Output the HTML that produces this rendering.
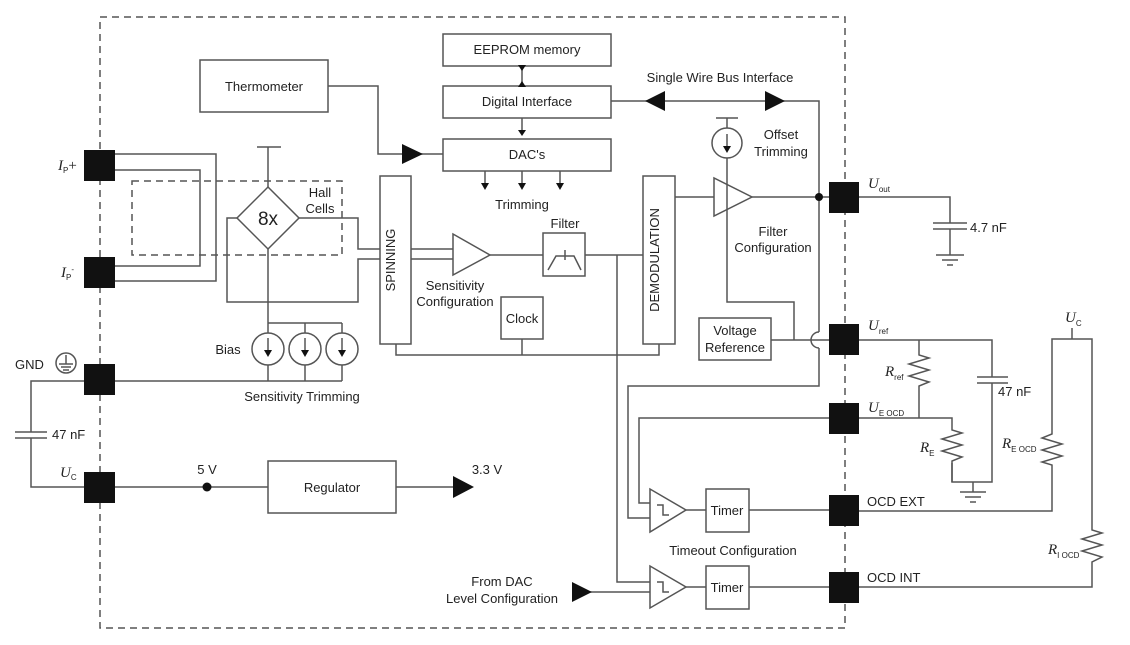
<!DOCTYPE html>
<html><head><meta charset="utf-8"><style>
html,body{margin:0;padding:0;background:#fff;}
svg{display:block;font-family:"Liberation Sans",Arial,sans-serif;}
text{font-size:13px;fill:#222;}
.i{font-family:"Liberation Serif",serif;font-style:italic;font-size:15px;}
.s{font-size:8px;font-style:normal;font-family:"Liberation Sans",sans-serif;}
</style></head><body>
<svg width="1130" height="645" viewBox="0 0 1130 645" xmlns="http://www.w3.org/2000/svg">
<g fill="none" stroke="#555" stroke-width="1.5">
<rect x="100" y="17" width="745" height="611" stroke-dasharray="7,5"/>
<rect x="132" y="181" width="210" height="74" stroke-dasharray="7,5"/>
<rect x="443" y="34" width="168" height="32"/>
<rect x="443" y="86" width="168" height="32"/>
<rect x="443" y="139" width="168" height="32"/>
<rect x="200" y="60" width="128" height="52"/>
<rect x="380" y="176" width="31" height="168"/>
<rect x="643" y="176" width="32" height="168"/>
<rect x="543" y="233" width="42" height="43"/>
<rect x="501" y="297" width="42" height="42"/>
<rect x="699" y="318" width="72" height="42"/>
<rect x="268" y="461" width="128" height="52"/>
<rect x="706" y="489" width="43" height="43"/>
<rect x="706" y="566" width="43" height="43"/>
<line x1="522" y1="66" x2="522" y2="86"/>
<line x1="522" y1="118" x2="522" y2="134"/>
<polyline points="328,86 378,86 378,154 443,154"/>
<line x1="485" y1="171" x2="485" y2="186"/><line x1="522" y1="171" x2="522" y2="186"/><line x1="560" y1="171" x2="560" y2="186"/>
<polyline points="611,101 819,101 819,332"/>
<path d="M819,332 a8,8 0 0 0 0,16"/>
<polyline points="819,348 819,386 628,386 628,518 650,518"/>
<polyline points="115,154 216,154 216,281 115,281"/>
<polyline points="115,170 200,170 200,266 115,266"/>
<polygon points="268,187 299,218 268,249 237,218"/>
<line x1="268" y1="187" x2="268" y2="147"/><line x1="257" y1="147" x2="281" y2="147"/>
<polyline points="237,218 227,218 227,302 358,302 358,259 380,259"/>
<polyline points="299,218 358,218 358,249 380,249"/>
<line x1="268" y1="249" x2="268" y2="323"/>
<polyline points="268,323 342,323"/>
<circle cx="268" cy="349" r="16"/><circle cx="305" cy="349" r="16"/><circle cx="342" cy="349" r="16"/>
<line x1="268" y1="323" x2="268" y2="333"/><line x1="305" y1="323" x2="305" y2="333"/><line x1="342" y1="323" x2="342" y2="333"/>
<line x1="268" y1="365" x2="268" y2="381"/><line x1="305" y1="365" x2="305" y2="381"/><line x1="342" y1="365" x2="342" y2="381"/>
<line x1="268" y1="338" x2="268" y2="352"/><line x1="305" y1="338" x2="305" y2="352"/><line x1="342" y1="338" x2="342" y2="352"/>
<polyline points="115,381 342,381"/>
<polyline points="85,381 31,381 31,432"/><polyline points="31,438 31,487 85,487"/>
<line x1="15" y1="432" x2="47" y2="432"/><line x1="15" y1="438" x2="47" y2="438"/>
<circle cx="66" cy="363" r="10"/>
<line x1="66" y1="355" x2="66" y2="364"/><line x1="59" y1="364" x2="73" y2="364"/><line x1="61" y1="367" x2="71" y2="367"/><line x1="63" y1="370" x2="69" y2="370"/>
<line x1="115" y1="487" x2="268" y2="487"/>
<line x1="396" y1="487" x2="455" y2="487"/>
<line x1="411" y1="249" x2="453" y2="249"/><line x1="411" y1="259" x2="453" y2="259"/>
<polygon points="453,234 453,275 490,255"/>
<line x1="490" y1="255" x2="543" y2="255"/>
<line x1="585" y1="255" x2="643" y2="255"/>
<path d="M548,270 l8,-14 h18 l7,14 M565,250 v10"/>
<polyline points="396,344 396,355 659,355 659,344"/>
<line x1="522" y1="339" x2="522" y2="355"/>
<polyline points="617,255 617,582 650,582"/>
<line x1="675" y1="197" x2="714" y2="197"/>
<polygon points="714,178 714,216 752,197"/>
<line x1="752" y1="197" x2="831" y2="197"/>
<circle cx="727" cy="143" r="15"/>
<line x1="716" y1="118" x2="738" y2="118"/><line x1="727" y1="118" x2="727" y2="128"/>
<line x1="727" y1="134" x2="727" y2="148"/>
<polyline points="727,158 727,302 794,302 794,340"/>
<line x1="771" y1="340" x2="831" y2="340"/>
<polyline points="859,197 950,197 950,223"/>
<line x1="933" y1="223" x2="967" y2="223"/><line x1="933" y1="229" x2="967" y2="229"/>
<line x1="950" y1="229" x2="950" y2="255"/>
<line x1="936" y1="255" x2="964" y2="255"/><line x1="942" y1="260" x2="958" y2="260"/><line x1="947" y1="265" x2="953" y2="265"/>
<polyline points="859,340 992,340 992,377"/>
<line x1="977" y1="377" x2="1008" y2="377"/><line x1="977" y1="383" x2="1008" y2="383"/>
<polyline points="992,383 992,482 952,482 952,463"/>
<polyline points="919,340 919,355 929,358 909,364 929,370 909,376 929,382 919,386 919,418"/>
<polyline points="859,418 952,418 952,430 962,433 942,439 962,445 942,451 962,457 952,461 952,482"/>
<line x1="973" y1="482" x2="973" y2="492"/>
<line x1="960" y1="492" x2="986" y2="492"/><line x1="965" y1="497" x2="981" y2="497"/><line x1="970" y1="502" x2="976" y2="502"/>
<polyline points="831,418 639,418 639,503 650,503"/>
<polygon points="650,489 650,532 686,510"/>
<polygon points="650,566 650,608 686,587"/>
<path d="M657,505 h6 v10 h6 M657,582 h6 v10 h6"/>
<line x1="686" y1="510" x2="706" y2="510"/><line x1="749" y1="510" x2="831" y2="510"/>
<line x1="686" y1="587" x2="706" y2="587"/><line x1="749" y1="587" x2="831" y2="587"/>
<line x1="585" y1="592" x2="650" y2="592"/>
<polyline points="859,511 1052,511 1052,465 1042,462 1062,456 1042,450 1062,444 1042,438 1052,434 1052,339 1092,339 1092,530 1102,533 1082,539 1102,545 1082,551 1102,557 1092,562 1092,587 859,587"/>
<line x1="1072" y1="339" x2="1072" y2="328"/>
</g>
<g fill="#111">
<rect x="84" y="150" width="31" height="31"/><rect x="84" y="257" width="31" height="31"/>
<rect x="84" y="364" width="31" height="31"/><rect x="84" y="472" width="31" height="31"/>
<rect x="829" y="182" width="30" height="31"/><rect x="829" y="324" width="30" height="31"/>
<rect x="829" y="403" width="30" height="31"/><rect x="829" y="495" width="30" height="31"/>
<rect x="829" y="572" width="30" height="31"/>
<circle cx="819" cy="197" r="4"/><circle cx="207" cy="487" r="4.5"/>
<polygon points="402,144 402,164 423,154"/>
<polygon points="645,101 665,91 665,111"/><polygon points="785,101 765,91 765,111"/>
<polygon points="453,476 453,498 474,487"/>
<polygon points="572,582 572,602 592,592"/>
<polygon points="481,183 489,183 485,190"/><polygon points="518,183 526,183 522,190"/><polygon points="556,183 564,183 560,190"/>
<polygon points="518,65 526,65 522,71"/><polygon points="518,87 526,87 522,81"/><polygon points="518,130 526,130 522,136"/>
<polygon points="723,146 731,146 727,153"/>
<polygon points="264,350 272,350 268,357"/><polygon points="301,350 309,350 305,357"/><polygon points="338,350 346,350 342,357"/>
</g>
<g text-anchor="middle">
<text x="527" y="54">EEPROM memory</text>
<text x="527" y="106">Digital Interface</text>
<text x="527" y="159">DAC's</text>
<text x="264" y="91">Thermometer</text>
<text x="720" y="82">Single Wire Bus Interface</text>
<text x="522" y="209">Trimming</text>
<text x="565" y="228">Filter</text>
<text x="522" y="323">Clock</text>
<text x="455" y="290">Sensitivity</text>
<text x="455" y="306">Configuration</text>
<text x="781" y="139">Offset</text>
<text x="781" y="156">Trimming</text>
<text x="773" y="236">Filter</text>
<text x="773" y="252">Configuration</text>
<text x="735" y="335">Voltage</text>
<text x="735" y="352">Reference</text>
<text x="727" y="515">Timer</text>
<text x="727" y="592">Timer</text>
<text x="733" y="555">Timeout Configuration</text>
<text x="332" y="492">Regulator</text>
<text x="502" y="586">From DAC</text>
<text x="502" y="603">Level Configuration</text>
<text x="302" y="401">Sensitivity Trimming</text>
<text x="268" y="225" style="font-size:19px">8x</text>
<text x="320" y="197">Hall</text>
<text x="320" y="213">Cells</text>
<text x="228" y="354">Bias</text>
<text x="207" y="474">5 V</text>
<text x="487" y="474">3.3 V</text>
<text x="395" y="260" transform="rotate(-90 395 260)">SPINNING</text>
<text x="659" y="260" transform="rotate(-90 659 260)">DEMODULATION</text>
</g>
<text x="15" y="369">GND</text>
<text x="52" y="439">47 nF</text>
<text x="970" y="232">4.7 nF</text>
<text x="998" y="396">47 nF</text>
<text x="867" y="506">OCD EXT</text>
<text x="867" y="582">OCD INT</text>
<text class="i" x="58" y="170">I<tspan class="s" dy="3">P</tspan><tspan dy="-3" style="font-style:normal">+</tspan></text>
<text class="i" x="61" y="277">I<tspan class="s" dy="3">P</tspan><tspan dy="-8" class="s">-</tspan></text>
<text class="i" x="60" y="477">U<tspan class="s" dy="3">C</tspan></text>
<text class="i" x="868" y="188">U<tspan class="s" dy="4">out</tspan></text>
<text class="i" x="868" y="330">U<tspan class="s" dy="4">ref</tspan></text>
<text class="i" x="868" y="412">U<tspan class="s" dy="4">E OCD</tspan></text>
<text class="i" x="885" y="376">R<tspan class="s" dy="4">ref</tspan></text>
<text class="i" x="920" y="452">R<tspan class="s" dy="4">E</tspan></text>
<text class="i" x="1002" y="448">R<tspan class="s" dy="4">E OCD</tspan></text>
<text class="i" x="1048" y="554">R<tspan class="s" dy="4">I OCD</tspan></text>
<text class="i" x="1065" y="322">U<tspan class="s" dy="4">C</tspan></text>
</svg>
</body></html>
